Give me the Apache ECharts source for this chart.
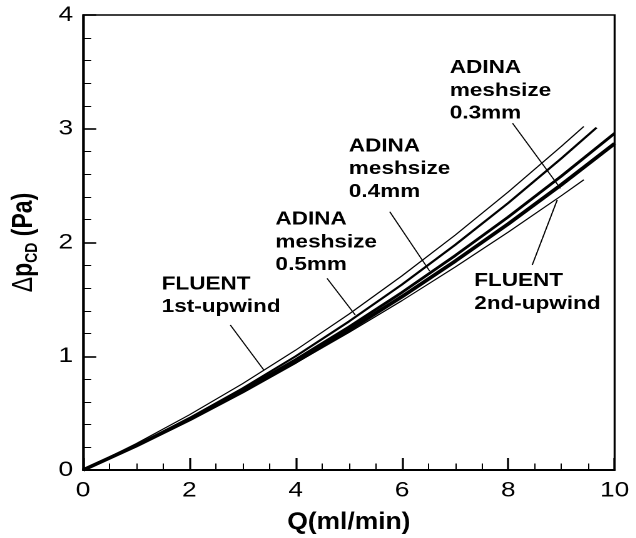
<!DOCTYPE html>
<html>
<head>
<meta charset="utf-8">
<script src="https://cdn.jsdelivr.net/npm/echarts@6/dist/echarts.min.js"></script>
<style>
  html, body { margin: 0; padding: 0; background: #fff; overflow: hidden; }
  #wrap { width: 636px; height: 538px; overflow: hidden; position: relative; }
  #chart { height: 538px; transform-origin: 0 0; }
</style>
</head>
<body>
<div id="wrap"><div id="chart"></div></div>
<script>
// ---- data: pressure drop across C-D vs. flow rate ----
const fluent1stQ  = [0, 1, 2, 3, 4, 5, 6, 7, 8, 9, 9.42];
const fluent1stDp = [0, 0.232, 0.485, 0.759, 1.054, 1.370, 1.707, 2.065, 2.445, 2.846, 3.020];

const adina05Q  = [0, 1, 2, 3, 4, 5, 6, 7, 8, 9, 9.66];
const adina05Dp = [0, 0.217, 0.457, 0.717, 1.000, 1.305, 1.631, 1.979, 2.348, 2.740, 3.010];

const adina04Q  = [0, 1, 2, 3, 4, 5, 6, 7, 8, 9, 10];
const adina04Dp = [0, 0.216, 0.449, 0.701, 0.970, 1.257, 1.562, 1.885, 2.225, 2.584, 2.960];

const adina03Q  = [0, 1, 2, 3, 4, 5, 6, 7, 8, 9, 10];
const adina03Dp = [0, 0.213, 0.442, 0.688, 0.950, 1.229, 1.524, 1.836, 2.164, 2.509, 2.870];

const fluent2ndQ  = [0, 1, 2, 3, 4, 5, 6, 7, 8, 9, 9.42];
const fluent2ndDp = [0, 0.215, 0.443, 0.685, 0.940, 1.208, 1.489, 1.784, 2.092, 2.412, 2.551];

// axis ticks and titles
const xTicks = [0, 2, 4, 6, 8, 10];
const yTicks = [0, 1, 2, 3, 4];
const xTitle = 'Q(ml/min)';
const yTitle = '{d|Δ}{b|p}{s|CD}{b| (Pa)}';

// curve annotations (text block top-left, in data units)
const noteTexts = ['FLUENT\n1st-upwind', 'ADINA\nmeshsize\n0.5mm', 'ADINA\nmeshsize\n0.4mm', 'ADINA\nmeshsize\n0.3mm', 'FLUENT\n2nd-upwind'];
const noteQ  = [1.48, 3.62, 5.00, 6.90, 7.36];
const noteDp = [1.688, 2.257, 2.901, 3.589, 1.717];

// leader lines from each annotation to its curve
const leaderFromQ  = [2.77, 4.59, 5.77, 8.08, 8.45];
const leaderFromDp = [1.275, 1.685, 2.27, 3.048, 1.802];
const leaderToQ    = [3.40, 5.12, 6.52, 8.98, 8.92];
const leaderToDp   = [0.879, 1.363, 1.749, 2.476, 2.374];

// ---- layout ----
const STRETCH = 1.25;              // figure is drawn wide (horizontal scale)
const PAGE_W = 636, PAGE_H = 538;
const CHART_W = PAGE_W / STRETCH;
const FONT = '"Liberation Sans", Arial, Helvetica, sans-serif';

const el = document.getElementById('chart');
el.style.width = CHART_W + 'px';
el.style.transform = 'scaleX(' + STRETCH + ')';

const pairs = (xs, ys) => xs.map((x, i) => [x, ys[i]]);

function curve(name, xs, ys, width, z) {
  return {
    name, type: 'line', data: pairs(xs, ys),
    showSymbol: false, symbol: 'none', smooth: false, z,
    lineStyle: { color: '#000', width },
    animation: false, silent: true
  };
}

const series = [
  curve('FLUENT 1st-upwind', fluent1stQ, fluent1stDp, 1.1, 5),
  curve('ADINA 0.5mm', adina05Q, adina05Dp, 2.0, 4),
  curve('ADINA 0.4mm', adina04Q, adina04Dp, 2.6, 3),
  curve('ADINA 0.3mm', adina03Q, adina03Dp, 3.4, 2),
  curve('FLUENT 2nd-upwind', fluent2ndQ, fluent2ndDp, 1.1, 6)
];

series[0].markLine = {
  silent: true, animation: false,
  symbol: ['none', 'none'],
  label: { show: false },
  lineStyle: { color: '#000', width: 1, type: 'solid' },
  emphasis: { disabled: true },
  data: leaderFromQ.map((q, i) => [
    { coord: [q, leaderFromDp[i]] },
    { coord: [leaderToQ[i], leaderToDp[i]] }
  ])
};

const option = {
  animation: false,
  backgroundColor: '#fff',
  grid: {
    left: 83 / STRETCH, right: (PAGE_W - 614) / STRETCH, top: 15, bottom: 68,
    show: true, borderColor: '#000', borderWidth: 1.6,
    containLabel: false, outerBoundsMode: 'none'
  },
  xAxis: {
    type: 'value',
    min: xTicks[0], max: xTicks[xTicks.length - 1], interval: xTicks[1] - xTicks[0],
    axisLine: { show: true, onZero: false, lineStyle: { color: '#000', width: 2 } },
    axisTick: { show: true, inside: true, length: 12, lineStyle: { color: '#000', width: 1.6 } },
    minorTick: { show: true, splitNumber: 4, length: 6.5, lineStyle: { color: '#000', width: 1 } },
    splitLine: { show: false },
    axisLabel: { color: '#000', fontSize: 21, fontFamily: FONT, margin: 10 }
  },
  yAxis: {
    type: 'value',
    min: yTicks[0], max: yTicks[yTicks.length - 1], interval: yTicks[1] - yTicks[0],
    axisLine: { show: true, onZero: false, lineStyle: { color: '#000', width: 1.6 } },
    axisTick: { show: true, inside: true, length: 10.5, lineStyle: { color: '#000', width: 1.6 } },
    minorTick: { show: true, splitNumber: 5, length: 6.5, lineStyle: { color: '#000', width: 1 } },
    splitLine: { show: false },
    axisLabel: { color: '#000', fontSize: 21, fontFamily: FONT, margin: 8 },
    name: yTitle,
    nameLocation: 'middle',
    nameGap: 34,
    nameTextStyle: {
      color: '#000', fontSize: 23, fontFamily: FONT, fontWeight: 'bold',
      rich: {
        d: { fontSize: 23, fontFamily: FONT, fontWeight: 'normal', color: '#000', lineHeight: 26 },
        b: { fontSize: 23, fontFamily: FONT, fontWeight: 'bold', color: '#000', lineHeight: 26 },
        s: { fontSize: 14, fontFamily: FONT, fontWeight: 'bold', color: '#000', lineHeight: 13, verticalAlign: 'bottom' }
      }
    }
  },
  series
};

const chart = echarts.init(el, null, { renderer: 'canvas', devicePixelRatio: 2, width: CHART_W, height: PAGE_H });
chart.setOption(option);

// annotation text blocks, placed through the grid's coordinate system
const NOTE_SIZE = 18, NOTE_LH = 22.7;
const capOffset = NOTE_LH / 2 - 0.356 * NOTE_SIZE;
const notes = noteTexts.map((t, i) => {
  const p = chart.convertToPixel({ gridIndex: 0 }, [noteQ[i], noteDp[i]]);
  return {
    type: 'text', silent: true, z: 10,
    x: p[0], y: p[1] - capOffset,
    style: {
      text: t, fill: '#000',
      fontSize: NOTE_SIZE, fontWeight: 'bold', fontFamily: FONT,
      lineHeight: NOTE_LH, align: 'left', verticalAlign: 'top'
    }
  };
});

// x title in tall, condensed lettering
const gridRect = chart.getModel().getComponent('grid', 0).coordinateSystem.getRect();
const xTitleEl = {
  type: 'text', silent: true, z: 10,
  x: gridRect.x + gridRect.width / 2, y: 522, scaleX: 0.86, scaleY: 1,
  style: {
    text: xTitle, fill: '#000', fontSize: 24.5, fontWeight: 'bold', fontFamily: FONT,
    align: 'center', verticalAlign: 'middle'
  }
};

chart.setOption({ graphic: notes.concat([xTitleEl]) });
</script>
</body>
</html>
